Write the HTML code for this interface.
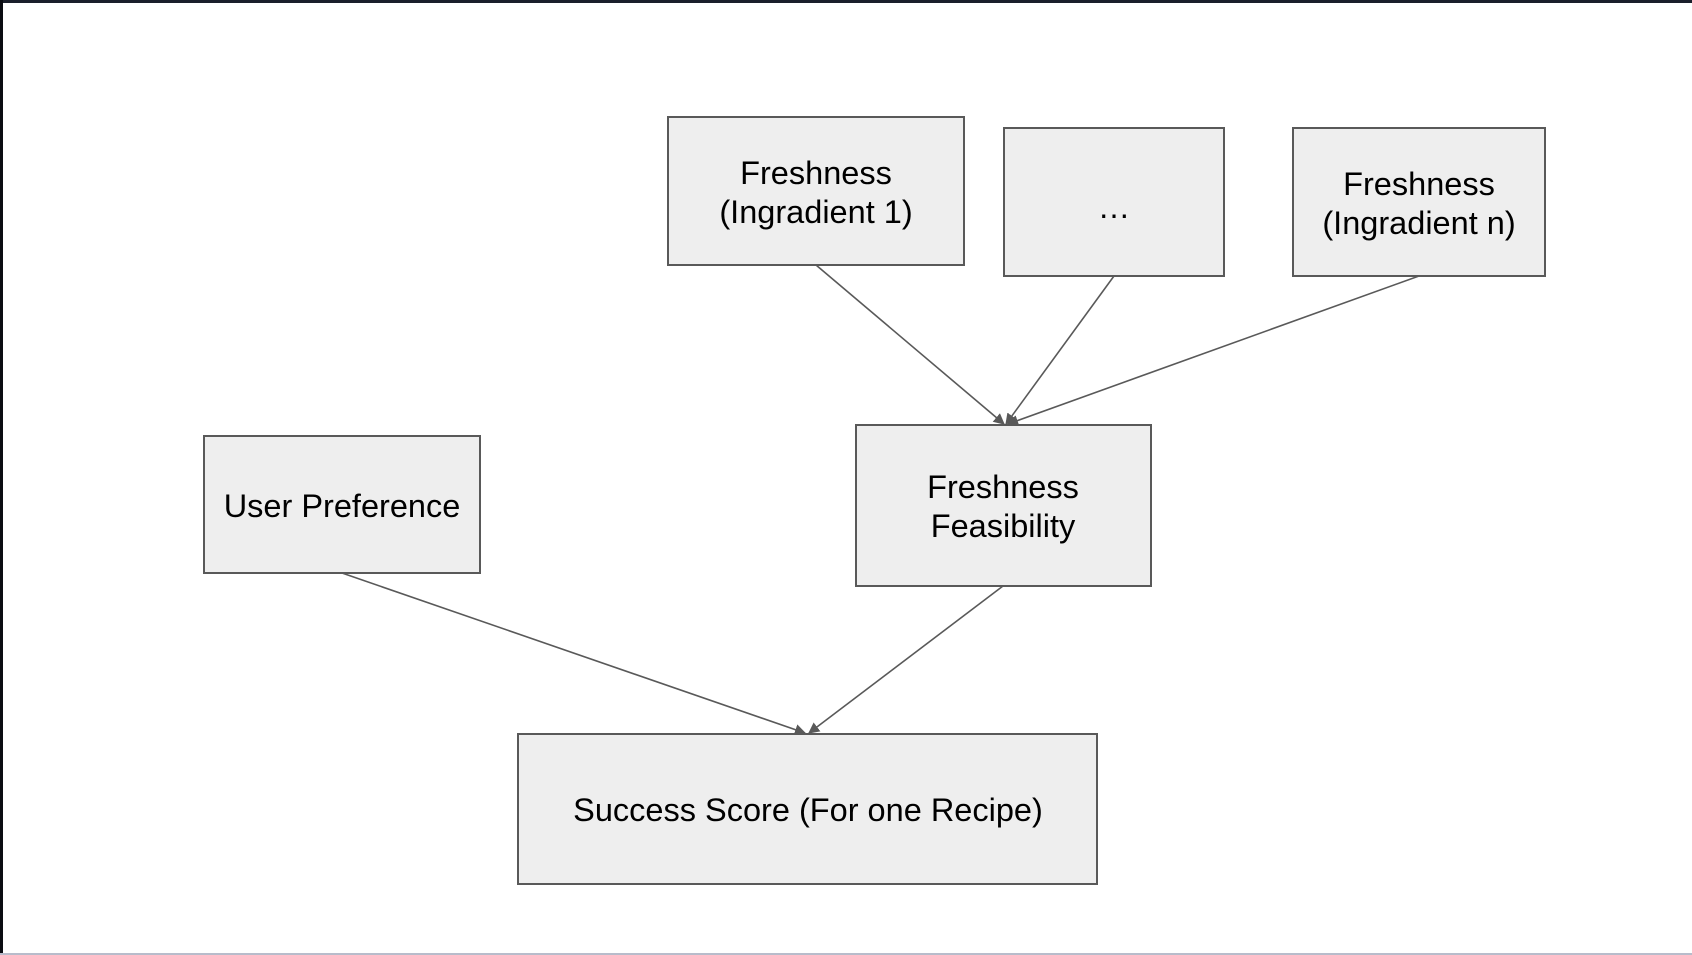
<!DOCTYPE html>
<html><head><meta charset="utf-8"><style>
html,body{margin:0;padding:0;background:#fff;}
body{width:1692px;height:955px;overflow:hidden;position:relative;font-family:"Liberation Sans",Arial,sans-serif;}
</style></head><body>
<svg width="1692" height="955" viewBox="0 0 1692 955" xmlns="http://www.w3.org/2000/svg" style="position:absolute;left:0;top:0">
<defs><marker id="a" viewBox="0 0 10 10" refX="9" refY="5" markerWidth="7" markerHeight="7" orient="auto"><path d="M0,0 L10,5 L0,10 z" fill="#595959"/></marker></defs>
<rect x="0" y="0" width="1692" height="3" fill="#1a1f2b"/>
<rect x="0" y="0" width="3" height="955" fill="#0a0c12"/>
<rect x="0" y="953" width="1692" height="2" fill="#b8bccb"/>
<g fill="#eeeeee" stroke="#595959" stroke-width="2">
<rect x="668" y="117" width="296" height="148"/>
<rect x="1004" y="128" width="220" height="148"/>
<rect x="1293" y="128" width="252" height="148"/>
<rect x="856" y="425" width="295" height="161"/>
<rect x="204" y="436" width="276" height="137"/>
<rect x="518" y="734" width="579" height="150"/>
</g>
<g stroke="#595959" stroke-width="1.6" fill="none" marker-end="url(#a)">
<line x1="816" y1="265" x2="1004" y2="424"/>
<line x1="1114" y1="276" x2="1006" y2="424"/>
<line x1="1419" y1="276" x2="1008" y2="424"/>
<line x1="342" y1="573" x2="805" y2="733"/>
<line x1="1003" y1="586" x2="809" y2="733"/>
</g>
<g font-family="Liberation Sans, Arial, sans-serif" font-size="32.5" fill="#000" text-anchor="middle">
<text x="816" y="184">Freshness</text>
<text x="816" y="223">(Ingradient 1)</text>
<text x="1114" y="218">…</text>
<text x="1419" y="195">Freshness</text>
<text x="1419" y="234">(Ingradient n)</text>
<text x="1003" y="498">Freshness</text>
<text x="1003" y="537">Feasibility</text>
<text x="342" y="517">User Preference</text>
<text x="808" y="821">Success Score (For one Recipe)</text>
</g>
</svg>
</body></html>
